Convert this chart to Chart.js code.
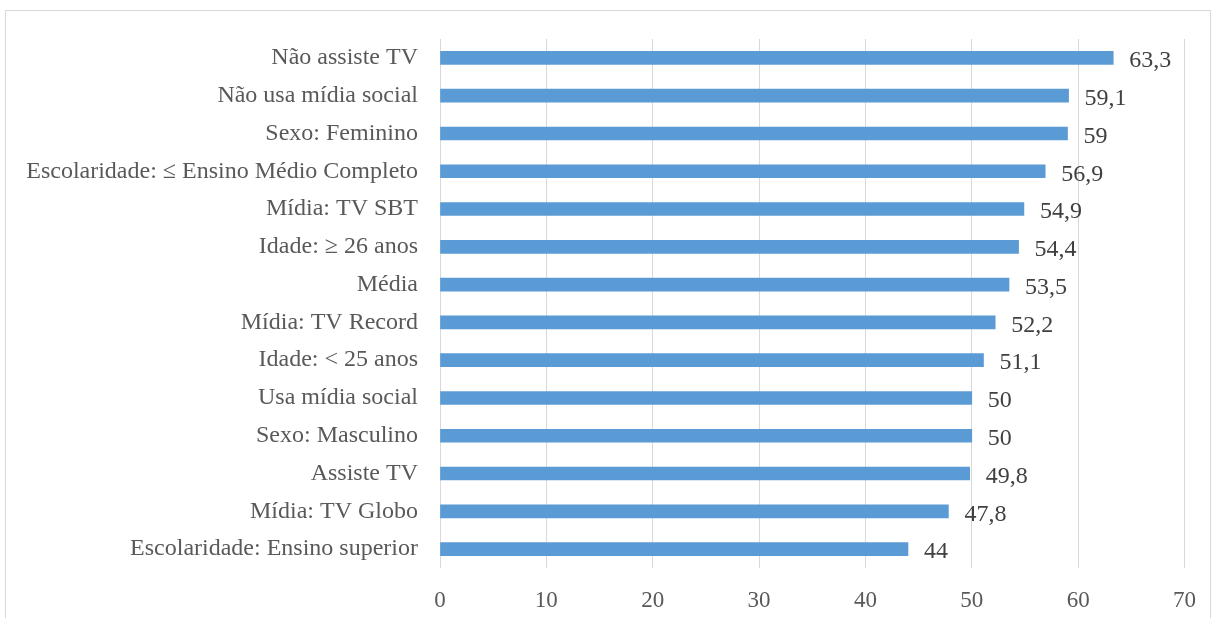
<!DOCTYPE html>
<html>
<head>
<meta charset="utf-8">
<script src="https://cdn.jsdelivr.net/npm/chart.js@4"></script>
<style>
  html, body { margin: 0; padding: 0; background: #fff; overflow: hidden; }
  #frame {
    position: absolute; left: 5px; top: 10px; width: 1206px; height: 700px;
    border: 1px solid #d9d9d9; box-sizing: border-box;
  }
  #wrap { position: absolute; left: 0; top: 0; width: 1215px; height: 618px; }
</style>
</head>
<body>
<div id="frame"></div>
<div id="wrap"><canvas id="barChart"></canvas></div>
<script>
const categories = [
  'Não assiste TV',
  'Não usa mídia social',
  'Sexo: Feminino',
  'Escolaridade: ≤ Ensino Médio Completo',
  'Mídia: TV SBT',
  'Idade: ≥ 26 anos',
  'Média',
  'Mídia: TV Record',
  'Idade: < 25 anos',
  'Usa mídia social',
  'Sexo: Masculino',
  'Assiste TV',
  'Mídia: TV Globo',
  'Escolaridade: Ensino superior'
];
const values = [63.3, 59.1, 59, 56.9, 54.9, 54.4, 53.5, 52.2, 51.1, 50, 50, 49.8, 47.8, 44];
const xTicks = [0, 10, 20, 30, 40, 50, 60, 70];

const fontFamily = "'Times New Roman', 'Liberation Serif', serif";
const textColor = '#595959';

// draws the value next to the end of each bar
const valueLabels = {
  id: 'valueLabels',
  afterDatasetsDraw(chart) {
    const ctx = chart.ctx;
    const meta = chart.getDatasetMeta(0);
    ctx.save();
    ctx.font = '24px ' + fontFamily;
    ctx.fillStyle = '#404040';
    ctx.textAlign = 'left';
    ctx.textBaseline = 'middle';
    meta.data.forEach((bar, i) => {
      const label = String(values[i]).replace('.', ',');
      ctx.fillText(label, bar.x + 16, bar.y + 3);
    });
    ctx.restore();
  }
};

const ctx = document.getElementById('barChart').getContext('2d');
new Chart(ctx, {
  type: 'bar',
  data: {
    labels: categories,
    datasets: [{
      data: values,
      backgroundColor: '#5b9bd5',
      barThickness: 13,
    }],
  },
  options: {
    indexAxis: 'y',
    responsive: true,
    maintainAspectRatio: false,
    animation: false,
    layout: { padding: { top: 39, right: 29, left: 0, bottom: 0 } },
    plugins: {
      legend: { display: false },
      tooltip: { enabled: false },
    },
    scales: {
      x: {
        min: 0,
        max: 70,
        afterBuildTicks: (scale) => { scale.ticks = xTicks.map(v => ({ value: v })); },
        afterFit: (scale) => { scale.height = 50; },
        grid: { color: '#d9d9d9', lineWidth: 1, drawTicks: false },
        border: { display: false },
        ticks: {
          padding: 19,
          color: textColor,
          font: { family: fontFamily, size: 23 },
        },
      },
      y: {
        afterFit: (scale) => { scale.width = 440; },
        grid: { display: false },
        border: { display: false },
        ticks: {
          padding: 14,
          color: textColor,
          font: { family: fontFamily, size: 24 },
        },
      },
    },
  },
  plugins: [valueLabels],
});
</script>
</body>
</html>
